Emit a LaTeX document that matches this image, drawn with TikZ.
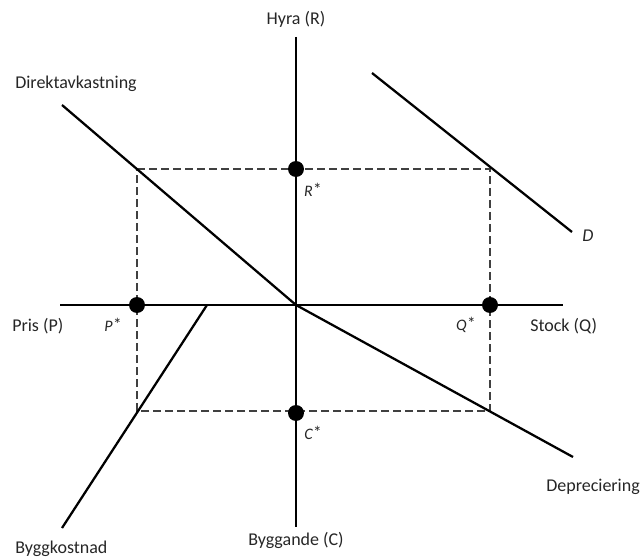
\documentclass[tikz,border=0pt]{standalone}
\usepackage{fontspec}
\setmainfont{Carlito}
\newcommand{\stlab}[1]{#1\kern0.3pt\raisebox{0.05em}{\fontsize{13pt}{13pt}\selectfont\upshape *}}
\begin{document}
\begin{tikzpicture}[x=0.75pt,y=-0.75pt,
  axis/.style={line width=0.8pt},
  curve/.style={line width=1.7pt},
  guide/.style={line width=0.8pt,dash pattern=on 6pt off 3pt,draw=black!75},
  dot/.style={circle,fill=black,inner sep=0pt,minimum size=12pt},
  lab/.style={font=\fontsize{13.5pt}{16pt}\selectfont,inner sep=0pt,text=black!85},
  star/.style={font=\fontsize{12pt}{14pt}\selectfont\itshape,inner sep=0pt,text=black!85}]
\useasboundingbox (0,0) rectangle (640,560);
% axis ends
\coordinate (O) at (296,305);
\coordinate (ytop) at (296,37);
\coordinate (ybot) at (296,527);
\coordinate (xl) at (60,305);
\coordinate (xr) at (563,305);
% rectangle corners
\coordinate (tl) at (137,169);
\coordinate (tr) at (490,169);
\coordinate (bl) at (137,411);
\coordinate (br) at (490,411);
% curves ends
\coordinate (dirA) at (62,105);
\coordinate (depB) at (573,457);
\coordinate (bygA) at (207,305);
\coordinate (bygB) at (62,528);
\coordinate (dA) at (372,73);
\coordinate (dB) at (572,232);
% guides
\draw[guide] (tl) -- (tr) -- (br) -- (bl) -- cycle;
% axes
\draw[axis] (ytop) -- (ybot);
\draw[axis] (xl) -- (xr);
% curves
\draw[curve] (dirA) -- (O) -- (depB);
\draw[curve] (bygA) -- (bygB);
\draw[curve] (dA) -- (dB);
% dots
\node[dot] (Rs) at (296,169) {};
\node[dot] (Ps) at (137,305) {};
\node[dot] (Qs) at (490,305) {};
\node[dot] (Cs) at (296,413) {};
% labels
\node[lab] (hyra) at (296,19) {Hyra (R)};
\node[lab,anchor=west] (dir) at (15,84) {Direktavkastning};
\node[lab,anchor=west] (pris) at (12,326) {Pris (P)};
\node[lab,anchor=west] (stock) at (530,326) {Stock (Q)};
\node[lab,anchor=west] (dep) at (546,487) {Depreciering};
\node[lab] (bygg) at (296,540) {Byggande (C)};
\node[lab,anchor=west] (byk) at (15,549) {Byggkostnad};
\node[star] (Rl) at (313,190) {\stlab{R}};
\node[star] (Pl) at (113,325) {\stlab{P}};
\node[star] (Ql) at (466,325) {\stlab{Q}};
\node[star] (Cl) at (313,433) {\stlab{C}};
\node[star,font=\fontsize{13.5pt}{16pt}\selectfont\itshape] (Dl) at (588,236) {D};
\end{tikzpicture}
\end{document}
